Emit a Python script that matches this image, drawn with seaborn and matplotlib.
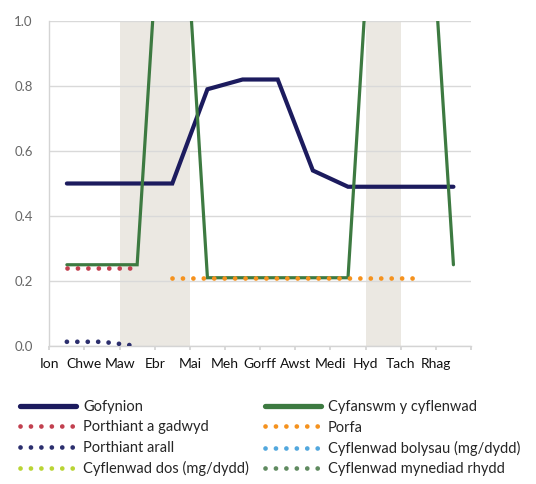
import numpy as np
import pandas as pd
import matplotlib
matplotlib.use("Agg")
import matplotlib.pyplot as plt
import seaborn as sns
from matplotlib.lines import Line2D

months = ["Ion", "Chwe", "Maw", "Ebr", "Mai", "Meh", "Gorff", "Awst", "Medi", "Hyd", "Tach", "Rhag"]
nan = np.nan
gofynion = [0.50, 0.50, 0.50, 0.50, 0.79, 0.82, 0.82, 0.54, 0.49, 0.49, 0.49, 0.49]
cyfanswm = [0.25, 0.25, 0.25, 1.95, 0.21, 0.21, 0.21, 0.21, 0.21, 1.94, 1.93, 0.25]
porthiant_gadwyd = [0.24, 0.24, 0.24, nan, nan, nan, nan, nan, nan, nan, nan, nan]
porthiant_arall = [0.013, 0.013, 0.0, nan, nan, nan, nan, nan, nan, nan, nan, nan]
porfa = [nan, nan, nan, 0.21, 0.21, 0.21, 0.21, 0.21, 0.21, 0.21, 0.21, nan]
cyflenwad_dos = [nan] * 12
cyflenwad_bolysau = [nan] * 12
cyflenwad_mynediad = [nan] * 12
shaded_months = [["Maw", "Ebr"], ["Hyd"]]
yticks = [0.0, 0.2, 0.4, 0.6, 0.8, 1.0]

sns.set_theme(style="white")
plt.rcParams["font.family"] = ["Lato", "DejaVu Sans"]

fig = plt.figure(figsize=(5.36, 4.84), dpi=100)
ax = fig.add_axes([49.3 / 536, 1 - 346 / 484, (471 - 49.3) / 536, (346 - 21) / 484])

pos = np.arange(len(months)) + 0.5
df = pd.DataFrame({
    "x": pos,
    "Gofynion": gofynion,
    "Cyfanswm y cyflenwad": cyfanswm,
    "Porthiant a gadwyd": porthiant_gadwyd,
    "Porthiant arall": porthiant_arall,
    "Porfa": porfa,
    "Cyflenwad dos (mg/dydd)": cyflenwad_dos,
    "Cyflenwad bolysau (mg/dydd)": cyflenwad_bolysau,
    "Cyflenwad mynediad rhydd": cyflenwad_mynediad,
})

# shaded bands
for grp in shaded_months:
    i0 = months.index(grp[0])
    i1 = months.index(grp[-1]) + 1
    ax.axvspan(i0, i1, color="#ebe8e2", lw=0, zorder=0)

navy = "#1c1b5e"
green = "#3d7a41"
styles = {
    "Gofynion": dict(color=navy, lw=3.0, solid=True, z=3),
    "Cyfanswm y cyflenwad": dict(color=green, lw=2.3, solid=True, z=4),
    "Porthiant a gadwyd": dict(color="#c2404f", lw=3.4, solid=False, z=5),
    "Porthiant arall": dict(color="#2c2f6e", lw=3.4, solid=False, z=5),
    "Porfa": dict(color="#f5921e", lw=3.4, solid=False, z=5),
    "Cyflenwad dos (mg/dydd)": dict(color="#b9d434", lw=3.4, solid=False, z=5),
    "Cyflenwad bolysau (mg/dydd)": dict(color="#52a7dd", lw=3.4, solid=False, z=5),
    "Cyflenwad mynediad rhydd": dict(color="#5f8a5f", lw=3.4, solid=False, z=5),
}
dot = (0, (0.01, 2.2))
for name, st in styles.items():
    sub = df[["x", name]].dropna()
    if len(sub) == 0:
        continue
    sns.lineplot(data=sub, x="x", y=name, ax=ax, color=st["color"], lw=st["lw"],
                 linestyle="-" if st["solid"] else dot,
                 dash_capstyle="round", solid_joinstyle="miter", zorder=st["z"])

ax.set_xlim(0, 12)
ax.set_ylim(0, 1.0)
ax.set_yticks(yticks)
ax.set_yticklabels([f"{v:.1f}" for v in yticks], color="#666666", fontsize=9.5)
ax.set_xticks(np.arange(0, 13))
ax.set_xticklabels(months + [""], fontsize=10, color="#111111")
ax.grid(axis="y", color="#d9d9d9", lw=1.0, zorder=1)
ax.set_axisbelow(True)
ax.set_xlabel("")
ax.set_ylabel("")
for s in ["top", "right"]:
    ax.spines[s].set_visible(False)
for s in ["left", "bottom"]:
    ax.spines[s].set_color("#d4d4d4")
    ax.spines[s].set_linewidth(1.0)
ax.tick_params(axis="x", direction="out", length=3, color="#d4d4d4", pad=6, bottom=True)
ax.tick_params(axis="y", length=0, pad=12)

def handle(name):
    st = styles[name]
    if st["solid"]:
        return Line2D([], [], color=st["color"], lw=3.8, solid_capstyle="round")
    return Line2D([], [], color=st["color"], lw=3.4, linestyle=dot, dash_capstyle="round")

col1 = ["Gofynion", "Porthiant a gadwyd", "Porthiant arall", "Cyflenwad dos (mg/dydd)"]
col2 = ["Cyfanswm y cyflenwad", "Porfa", "Cyflenwad bolysau (mg/dydd)", "Cyflenwad mynediad rhydd"]
for cols, xleft in [(col1, 16 / 536), (col2, 261 / 536)]:
    leg = fig.legend([handle(n) for n in cols], cols, loc="upper left",
                     bbox_to_anchor=(xleft, 1 - 396 / 484), frameon=False,
                     fontsize=10.5, handlelength=3.8, handletextpad=0.5,
                     labelspacing=0.42, borderaxespad=0, borderpad=0.3)

fig.savefig("out.png", dpi=100)
